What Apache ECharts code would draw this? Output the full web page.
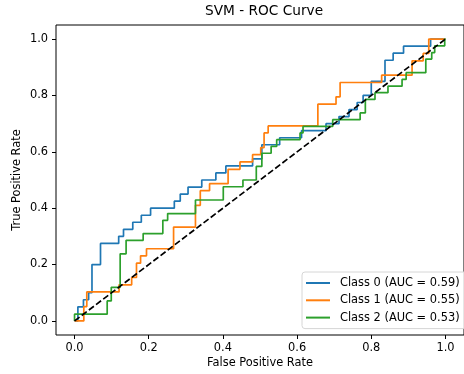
<!DOCTYPE html>
<html>
<head>
<meta charset="utf-8">
<script src="https://cdn.jsdelivr.net/npm/echarts@6/dist/echarts.min.js"></script>
<style>
  html, body { margin: 0; padding: 0; background: #fff; }
  #main { width: 464px; height: 374px; }
</style>
</head>
<body>
<div id="main"></div>
<script>
// ROC step curves: each class is a list of jump positions (fpr) and the tpr reached there
const classLabels = ['Class 0', 'Class 1', 'Class 2'];
const aucValues = [0.59, 0.55, 0.53];
const colors = ['#1f77b4', '#ff7f0e', '#2ca02c'];

const fprJumps0 = [0.009,0.024,0.038,0.047,0.07,0.119,0.132,0.157,0.18,0.205,0.269,0.285,0.306,0.343,0.381,0.408,0.48,0.505,0.553,0.612,0.678,0.713,0.74,0.762,0.778,0.8,0.837,0.859,0.887,0.96];
const tprLevels0 = [0.05,0.075,0.1,0.2,0.275,0.3,0.325,0.35,0.375,0.4,0.425,0.45,0.475,0.5,0.525,0.55,0.575,0.625,0.65,0.675,0.7,0.725,0.75,0.775,0.8,0.85,0.925,0.95,0.975,1];

const fprJumps1 = [0.025,0.033,0.12,0.154,0.167,0.178,0.194,0.267,0.326,0.339,0.364,0.414,0.446,0.48,0.502,0.511,0.522,0.656,0.705,0.716,0.828,0.91,0.94,0.955];
const tprLevels1 = [0.051,0.103,0.128,0.154,0.205,0.231,0.256,0.333,0.41,0.462,0.487,0.538,0.564,0.59,0.615,0.667,0.692,0.769,0.795,0.846,0.872,0.923,0.949,1];

const fprJumps2 = [0,0.088,0.099,0.123,0.139,0.185,0.238,0.251,0.326,0.401,0.454,0.49,0.505,0.53,0.545,0.608,0.616,0.696,0.77,0.784,0.81,0.845,0.883,0.894,0.947,0.963,0.971,0.998];
const tprLevels2 = [0.024,0.071,0.119,0.238,0.286,0.31,0.357,0.381,0.429,0.476,0.5,0.548,0.595,0.619,0.643,0.667,0.69,0.714,0.738,0.786,0.81,0.833,0.857,0.881,0.929,0.952,0.976,1];

const chanceX = [0, 1];
const chanceY = [0, 1];
const tickValues = [0, 0.2, 0.4, 0.6, 0.8, 1.0];

// turn jumps into the corner points of the roc curve
function corners(xs, ys) {
  const pts = [[0, 0]];
  let prev = 0;
  xs.forEach((x, i) => {
    pts.push([x, prev]);
    pts.push([x, ys[i]]);
    prev = ys[i];
  });
  pts.push([1, prev]);
  return pts;
}

const curves = [
  corners(fprJumps0, tprLevels0),
  corners(fprJumps1, tprLevels1),
  corners(fprJumps2, tprLevels2)
];

const font = 'DejaVu Sans';
const fs = 11.4;

const chart = echarts.init(document.getElementById('main'));

const series = curves.map((data, i) => ({
  name: `${classLabels[i]} (AUC = ${aucValues[i].toFixed(2)})`,
  type: 'line',
  data: data,
  symbol: 'none',
  color: colors[i],
  lineStyle: { width: 1.7, color: colors[i] },
  animation: false
}));

series.push({
  name: 'chance',
  type: 'line',
  data: chanceX.map((x, i) => [x, chanceY[i]]),
  symbol: 'none',
  lineStyle: { width: 1.7, color: '#000', type: [6.3, 2.7] },
  animation: false
});

function axis(name, gap) {
  return {
    type: 'value',
    min: -0.05,
    max: 1.05,
    name: name,
    nameLocation: 'middle',
    nameGap: gap,
    nameMoveOverlap: false,
    nameTextStyle: { fontFamily: font, fontSize: fs, color: '#000' },
    axisLine: { show: false, onZero: false },
    splitLine: { show: false },
    axisTick: { show: true, length: 4, inside: false, customValues: tickValues, lineStyle: { color: '#000', width: 1 } },
    axisLabel: {
      customValues: tickValues,
      margin: 8,
      fontFamily: font, fontSize: fs, color: '#000',
      formatter: v => v.toFixed(1)
    }
  };
}

chart.setOption({
  animation: false,
  title: {
    text: 'SVM - ROC Curve',
    left: 205,
    top: 4,
    padding: 0,
    textStyle: { fontFamily: font, fontSize: 13.7, fontWeight: 'normal', color: '#000' }
  },
  legend: {
    data: series.slice(0, 3).map(s => s.name),
    orient: 'vertical',
    left: 302,
    top: 272,
    padding: [5, 8, 5, 4],
    itemWidth: 24,
    itemHeight: 2,
    itemGap: 5.3,
    icon: 'rect',
    backgroundColor: 'rgba(255,255,255,0.8)',
    borderColor: '#d6d6d6',
    borderWidth: 1,
    borderRadius: 3,
    textStyle: { fontFamily: font, fontSize: fs, color: '#000', lineHeight: 12, padding: [0, 0, 0, 5] }
  },
  grid: {
    left: 56,
    top: 25,
    width: 416,
    height: 310,
    show: true,
    borderColor: '#000',
    borderWidth: 1,
    containLabel: false
  },
  xAxis: axis('False Positive Rate', 23),
  yAxis: axis('True Positive Rate', 33),
  series: series
});
</script>
</body>
</html>
